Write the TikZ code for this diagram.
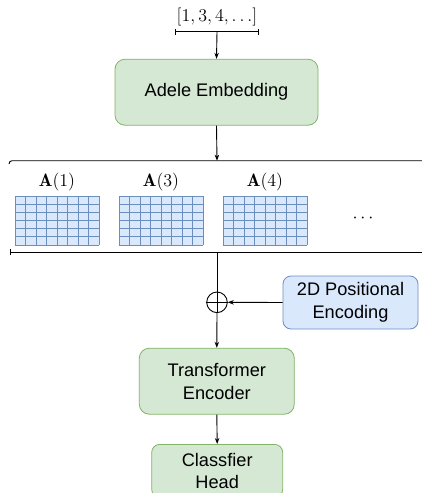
\documentclass[tikz,border=0pt]{standalone}
\usepackage{graphicx}
\usepackage{fontspec}
\newfontfamily\arialf{Liberation Sans}
\usetikzlibrary{arrows.meta}
\definecolor{gfill}{HTML}{D5E8D4}
\definecolor{gdraw}{HTML}{82B366}
\definecolor{bfill}{HTML}{DAE8FC}
\definecolor{bdraw}{HTML}{6C8EBF}
\newcommand{\mylbl}[1]{\scalebox{1.25}{\fontsize{14.4}{17}\selectfont$#1$}}
\begin{document}
\begin{tikzpicture}[x=1pt,y=-1pt,
  >={Stealth[length=6pt,width=4.5pt]},
  line width=0.9pt,
  boxtext/.style={align=center, font=\arialf\fontsize{18.2}{22.6}\selectfont, inner sep=0pt, line width=0.8pt},
  gbox/.style={boxtext, draw=gdraw, fill=gfill, rounded corners=10pt},
  bbox/.style={boxtext, draw=bdraw, fill=bfill, rounded corners=8pt},
  mlbl/.style={inner sep=0pt},
  gridln/.style={draw=bdraw, line width=0.9pt}
]
\useasboundingbox (0,0) rectangle (422,493);
\clip (0,0) rectangle (422,493);

% input sequence
\node[mlbl] (seq) at (217,17) {\mylbl{[1,3,4,\ldots]}};
\draw[{Bar[width=6pt]}-{Bar[width=6pt]}] (175,31.7) -- (259,31.7);
\coordinate (bk) at (217,31.7);

% Adele embedding
\node[gbox, minimum width=203pt, minimum height=66pt] (emb) at (216.5,92.2) {Adele Embedding};
\draw[->] (bk) -- (emb.north);

% top line
\coordinate (top) at (217,160.7);
\draw[->] (emb.south) -- (top);
\draw (9,164) to[out=90,in=180] (12,160.7) -- (422,160.7);

% grids
\foreach \x/\k in {15/1,119/3,223/4}{
  \node[mlbl] (lbl\k) at (\x+42,182) {\mylbl{\mathbf{A}(\k)}};
  \fill[bfill] (\x,196) rectangle (\x+84,245);
  \foreach \i in {0,...,8}{
    \draw[gridln] (\x+\i*10.5,196) -- (\x+\i*10.5,245);
  }
  \foreach \j in {0,...,6}{
    \draw[gridln] (\x,196+\j*8.1667) -- (\x+84,196+\j*8.1667);
  }
}
\node[mlbl] (dots) at (363,218) {\mylbl{\cdots}};

% bottom line
\coordinate (bot) at (217,252);
\draw[{Bar[width=6pt]}-] (10,252) -- (422,252);

% plus
\node[circle, draw, minimum size=20.6pt, inner sep=0pt] (plus) at (217,302.3) {};
\draw (plus.north) -- (plus.south);
\draw (plus.west) -- (plus.east);
\draw (bot) -- (plus.north);

% positional encoding
\node[bbox, minimum width=135pt, minimum height=53pt] (pos) at (350.5,302.5) {2D Positional\\Encoding};
\draw[->] (pos.west) -- (plus.east);

% transformer encoder
\node[gbox, minimum width=155pt, minimum height=66pt] (enc) at (216.8,381.2) {Transformer\\Encoder};
\draw[->] (plus.south) -- (enc.north);

% classifier head
\node[gbox, rounded corners=8pt, minimum width=131pt, minimum height=53pt, anchor=north] (cls) at (217.2,444) {Classfier\\Head};
\draw[->] (enc.south) -- (cls.north);
\end{tikzpicture}
\end{document}
